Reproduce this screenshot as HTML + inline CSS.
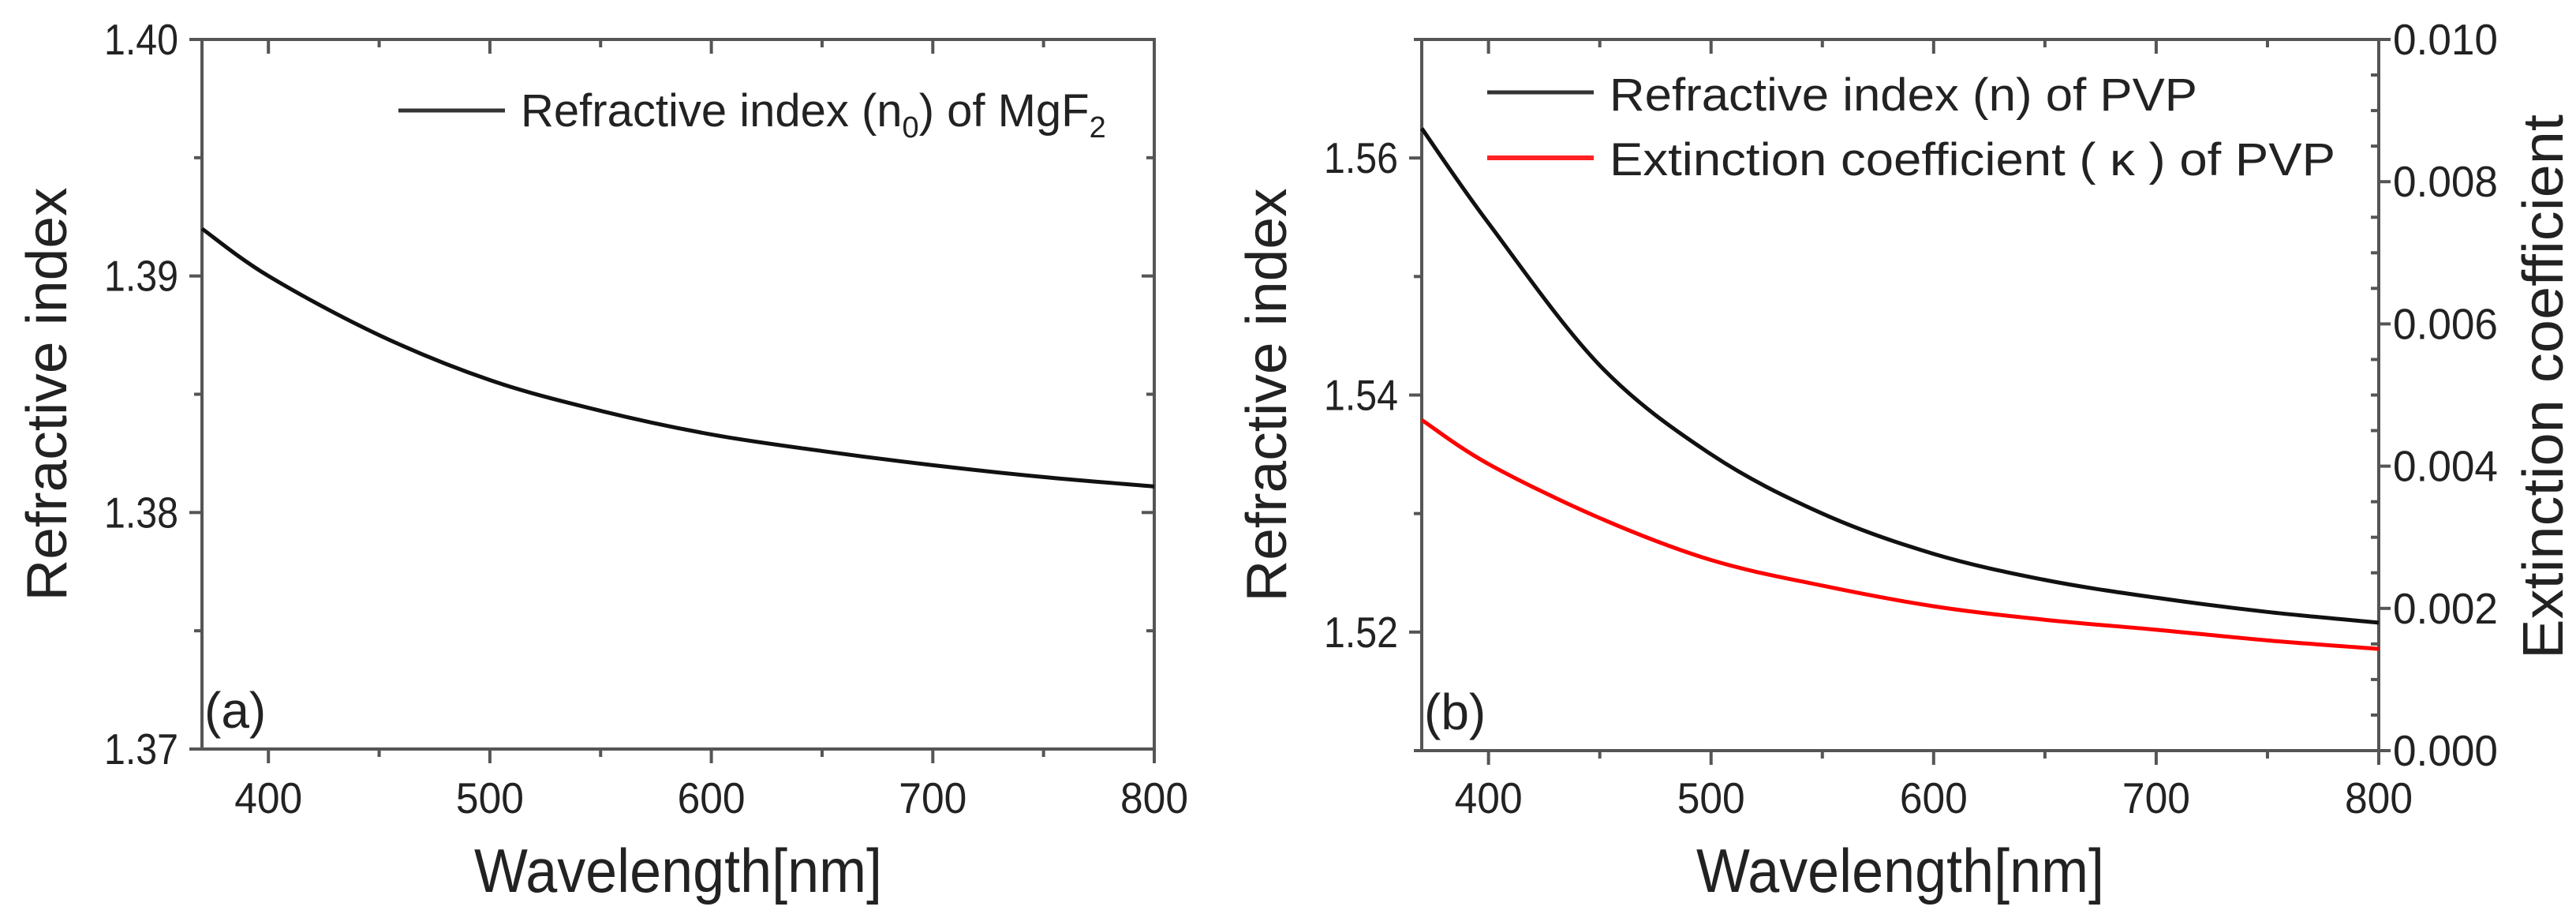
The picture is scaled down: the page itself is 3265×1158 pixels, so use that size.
<!DOCTYPE html>
<html><head><meta charset="utf-8"><style>
body{margin:0;background:#fff}
svg{display:block}
text{font-family:"Liberation Sans","DejaVu Sans",sans-serif;fill:#222}
</style></head><body>
<svg id="fig" width="3265" height="1158" viewBox="0 0 3265 1158"></svg>
<script>
const wl=[370,400,450,500,550,600,650,700,750,800];
const nMgF2=[1.3920,1.3900,1.3875,1.3856,1.3843,1.3833,1.3826,1.3820,1.3815,1.3811];
const nPVP=[1.5625,1.5545,1.5425,1.5350,1.5300,1.5266,1.5244,1.5229,1.5217,1.5208];
const kPVP=[0.00465,0.00403,0.00327,0.00268,0.00232,0.00203,0.00184,0.00170,0.00155,0.00143];
const xTicks=[400,500,600,700,800];
const yTicksA=[1.37,1.38,1.39,1.40];
const yTicksB=[1.52,1.54,1.56];
const yTicksK=[0,0.002,0.004,0.006,0.008,0.010];
const NS='http://www.w3.org/2000/svg';
const svg=document.getElementById('fig');
function el(t,a,p){const e=document.createElementNS(NS,t);for(const k in a)e.setAttribute(k,a[k]);(p||svg).appendChild(e);return e;}
function txt(s,x,y,fs,anchor,p,len){const a={x:x,y:y,'font-size':fs,'text-anchor':anchor||'middle'};if(len){a.textLength=len;a.lengthAdjust='spacingAndGlyphs';}const e=el('text',a,p);e.textContent=s;return e;}
function lin(d0,d1,r0,r1){return v=>r0+(v-d0)/(d1-d0)*(r1-r0);}

function panel(o){
  const g=el('g',{});
  
  
  const X=lin(370,800,o.L,o.R), Y=lin(o.y0,o.y1,o.B,o.T);
  const fr=el('rect',{x:o.L,y:o.T,width:o.R-o.L,height:o.B-o.T,fill:'none',stroke:'#555','stroke-width':4},g);
  
  for(let v=400;v<=800;v+=50){
    const major=v%100===0, x=X(v);
    el('line',{x1:x,y1:o.B,x2:x,y2:o.B+(major?18:10),stroke:'#555','stroke-width':4},g);
    el('line',{x1:x,y1:o.T,x2:x,y2:o.T+(major?18:10),stroke:'#555','stroke-width':4},g);
  }
  xTicks.forEach(v=>{const t=txt(String(v),X(v),1030,55,'middle',g,86);});
  const xt=txt('Wavelength[nm]',(o.L+o.R)/2,1130,78,'middle',g,517);
  
  const step=o.ystep/2;
  for(let v=o.y0;v<=o.y1+1e-9;v+=step){
    const y=Y(v);const major=Math.abs(Math.round(v/o.ystep)*o.ystep-v)<1e-9;
    el('line',{x1:o.L-(major?16:10),y1:y,x2:o.L,y2:y,stroke:'#555','stroke-width':4},g);
    if(!o.K) el('line',{x1:o.R,y1:y,x2:o.R-(major?16:10),y2:y,stroke:'#555','stroke-width':4},g);
  }
  o.yt.forEach(v=>{const t=txt(v.toFixed(2),o.L-30,Y(v)+19,55,'end',g,94);});
  const yt=txt('Refractive index',0,0,72,'middle',g,524);
  yt.setAttribute('transform',`translate(${o.L-172},${(o.T+o.B)/2}) rotate(-90)`);
  
  const pl=txt(o.tag,o.L+3,o.B-27,64,'start',g);
  
  return {g,X,Y};
}
function curve(g,X,Y,xs,ys,color,name){
  const pts=xs.map((x,i)=>[X(x),Y(ys[i])]);
  let d='M'+pts[0][0]+','+pts[0][1];
  for(let i=0;i<pts.length-1;i++){
    const p0=pts[Math.max(0,i-1)],p1=pts[i],p2=pts[i+1],p3=pts[Math.min(pts.length-1,i+2)];
    d+=` C${p1[0]+(p2[0]-p0[0])/6},${p1[1]+(p2[1]-p0[1])/6} ${p2[0]-(p3[0]-p1[0])/6},${p2[1]-(p3[1]-p1[1])/6} ${p2[0]},${p2[1]}`;
  }
  const p=el('path',{d:d,fill:'none',stroke:color,'stroke-width':5},g);
  
  
}

// Panel a
const A=panel({name:'panel-a',L:256,R:1463,T:50,B:949,y0:1.37,y1:1.40,ystep:0.01,yt:yTicksA,tag:'(a)'});
curve(A.g,A.X,A.Y,wl,nMgF2,'#111','mgf2-index-line');
el('line',{x1:505,y1:140,x2:640,y2:140,stroke:'#333','stroke-width':5},A.g);
const la=el('text',{x:660,y:160,'font-size':58,'text-anchor':'start'},A.g);

la.innerHTML='Refractive index (n<tspan font-size="38" dy="14">0</tspan><tspan dy="-14">) of MgF</tspan><tspan font-size="38" dy="14">2</tspan>';

// Panel b
const B=panel({name:'panel-b',L:1802,R:3015,T:50,B:951,y0:1.51,y1:1.57,ystep:0.02,yt:yTicksB,tag:'(b)',K:true});
const YK=lin(0,0.010,951,50);
for(let i=0;i<=20;i++){const v=i*0.0005,y=YK(v),major=i%4===0;
  el('line',{x1:3015,y1:y,x2:3015-(major?0:10),y2:y,stroke:'#555','stroke-width':4},B.g);
  if(major) el('line',{x1:3015,y1:y,x2:3030,y2:y,stroke:'#555','stroke-width':4},B.g);}
yTicksK.forEach(v=>{const t=txt(v.toFixed(3),3033,YK(v)+19,55,'start',B.g,133);});
const kt=txt('Extinction coefficient',0,0,72,'middle',B.g,690);
kt.setAttribute('transform',`translate(3248,490) rotate(-90)`);

curve(B.g,B.X,B.Y,wl,nPVP,'#111','pvp-index-line');
curve(B.g,B.X,YK,wl,kPVP,'#f00','pvp-extinction-line');
el('line',{x1:1885,y1:117,x2:2020,y2:117,stroke:'#333','stroke-width':5},B.g);
el('line',{x1:1885,y1:200,x2:2020,y2:200,stroke:'#f22','stroke-width':6},B.g);
const l1=txt('Refractive index (n) of PVP',2040,140,58,'start',B.g,745);

const l2=txt('Extinction coefficient ( κ ) of PVP',2040,222,58,'start',B.g,920);

</script>
</body></html>
